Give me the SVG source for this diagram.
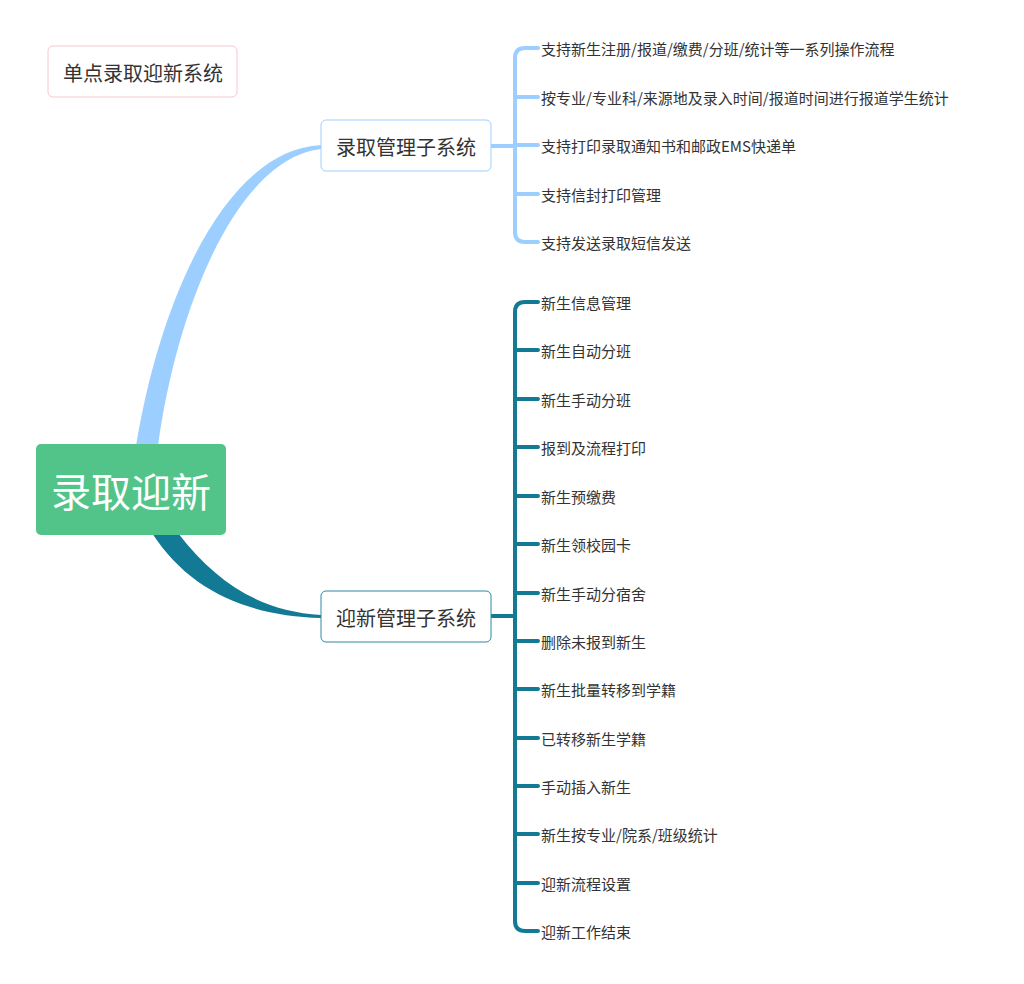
<svg xmlns="http://www.w3.org/2000/svg" width="1024" height="984" viewBox="0 0 1024 984">
<style>
text{font-family:"Noto Sans CJK SC","Liberation Sans",sans-serif;fill:#333}
.leaf{font-size:15px;dominant-baseline:central}
.sub{font-size:20px;text-anchor:middle;dominant-baseline:central}
.b1{stroke:#9CCFFF;stroke-width:4;fill:none;stroke-linecap:round}
.b2{stroke:#137A96;stroke-width:4;fill:none;stroke-linecap:round}
</style>
<rect width="1024" height="984" fill="#fff"/>
<g id="connectors">
<path d="M136,446 C160,300 225,150 321,145 L321,149 C240,158 178,300 158,446 Z" fill="#9CCFFF"/>
<path d="M152,533 C190,592 250,616 321,618 L321,615 C262,611 218,585 178,533 Z" fill="#137A96"/>
<path class="b1" d="M491,146 H515 M525,48 Q515,48 515,58 V232 Q515,242 525,242 H538 M515,97 H538 M515,145 H538 M515,194 H538 M525,48 H538"/>
<path class="b2" d="M491,616 H515 M525,302 Q515,302 515,312 V921 Q515,931 525,931 H538 M525,302 H538 M515,350 H538 M515,399 H538 M515,447 H538 M515,496 H538 M515,544 H538 M515,593 H538 M515,641 H538 M515,689 H538 M515,738 H538 M515,786 H538 M515,834 H538 M515,883 H538"/>
</g>
<g id="title"><rect x="48" y="46" width="189" height="51" rx="5" fill="#fff" stroke="#F5C8CC"/><text class="sub" x="143" y="72">单点录取迎新系统</text></g>
<g id="root"><rect x="36" y="444" width="190" height="91" rx="5" fill="#52C48A"/><text x="131" y="490" font-size="40" text-anchor="middle" dominant-baseline="central" style="fill:#fff">录取迎新</text></g>
<g id="sub1"><rect x="321" y="120" width="170" height="51" rx="5" fill="#fff" stroke="#9CCFFF"/><text class="sub" x="406" y="146">录取管理子系统</text></g>
<g id="sub2"><rect x="321" y="591" width="170" height="51" rx="5" fill="#fff" stroke="#2A8AA6"/><text class="sub" x="406" y="617">迎新管理子系统</text></g>
<g id="leaves1">
<text class="leaf" x="541" y="48">支持新生注册/报道/缴费/分班/统计等一系列操作流程</text>
<text class="leaf" x="541" y="97">按专业/专业科/来源地及录入时间/报道时间进行报道学生统计</text>
<text class="leaf" x="541" y="145">支持打印录取通知书和邮政EMS快递单</text>
<text class="leaf" x="541" y="194">支持信封打印管理</text>
<text class="leaf" x="541" y="242">支持发送录取短信发送</text>
</g>
<g id="leaves2">
<text class="leaf" x="541" y="302">新生信息管理</text>
<text class="leaf" x="541" y="350">新生自动分班</text>
<text class="leaf" x="541" y="399">新生手动分班</text>
<text class="leaf" x="541" y="447">报到及流程打印</text>
<text class="leaf" x="541" y="496">新生预缴费</text>
<text class="leaf" x="541" y="544">新生领校园卡</text>
<text class="leaf" x="541" y="593">新生手动分宿舍</text>
<text class="leaf" x="541" y="641">删除未报到新生</text>
<text class="leaf" x="541" y="689">新生批量转移到学籍</text>
<text class="leaf" x="541" y="738">已转移新生学籍</text>
<text class="leaf" x="541" y="786">手动插入新生</text>
<text class="leaf" x="541" y="834">新生按专业/院系/班级统计</text>
<text class="leaf" x="541" y="883">迎新流程设置</text>
<text class="leaf" x="541" y="931">迎新工作结束</text>
</g>
</svg>
